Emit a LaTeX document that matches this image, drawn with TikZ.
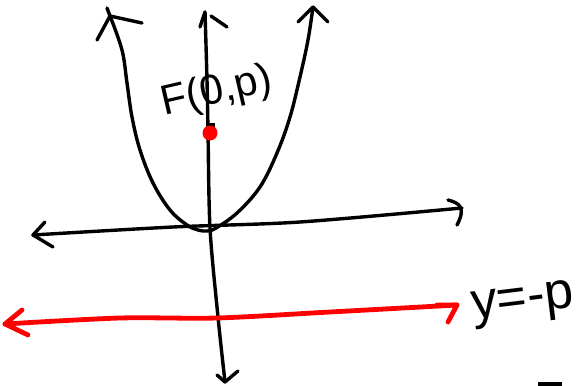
\documentclass[tikz,border=0pt]{standalone}
\usepackage{fontspec}
\setmainfont{Liberation Sans}
\begin{document}
\begin{tikzpicture}[x=0.5pt,y=-0.5pt, line cap=round, line join=round,
  ink/.style={line width=1.7pt, black},
  redink/.style={line width=2.4pt, red},
  lblF/.style={inner sep=0pt, font=\fontsize{21}{24}\selectfont},
  lblD/.style={inner sep=0pt, font=\fontsize{26}{30}\selectfont}]
\useasboundingbox (0,0) rectangle (580,386);
% named end points
\coordinate (yt) at (205,12);
\coordinate (yb) at (225,382);
\coordinate (xl) at (33,235);
\coordinate (xr) at (462,208);
\coordinate (pl) at (110,16);
\coordinate (pr) at (313,7);
\coordinate (dl) at (5,324);
\coordinate (dr) at (457,305);
% y-axis
\draw[ink] plot[smooth] coordinates {(yt) (207,80) (208,130) (210,228) (218,317) (yb)};
\draw[ink] (200,27) -- (yt) ++(6,4) -- (227,27);
\draw[ink] (217,375) -- (yb) -- (238,371);
% x-axis
\draw[ink] plot[smooth] coordinates {(xl) (173,227) (300,222) (xr)};
\draw[ink] (45,222) -- (xl) -- (53,247);
\draw[ink] (448,200) .. controls (460,203) and (466,208) .. (457,225);
% parabola
\draw[ink] plot[smooth, tension=0.6] coordinates {(pl) (122,50) (127,83) (132,117) (140,150) (153,183) (170,210) (187,225) (198,230) (207,231) (216,228) (237,213) (260,187) (277,153) (290,117) (300,77) (308,40) (pr)};
\draw[ink] (97,40) -- (pl) -- (142,23);
\draw[ink] (107,8) -- (pl);
\draw[ink] (298,22) -- (pr) -- (328,22);
% directrix
\draw[redink] plot[smooth] coordinates {(dl) (120,318) (217,318) (330,312) (dr)};
\draw[redink] (22,310) -- (dl) -- (28,335);
\draw[redink] (437,305) -- (dr) -- (448,322);
% focus
\fill[black] (208,123) rectangle (215,130);
\fill[red] (210,133) circle[radius=7.5];
% labels
\node[lblF, rotate=13] (F) at (217,92) {F(0,p)};
\node[lblD, rotate=7] (D) at (523,305) {y=-p};
% cut-off mark at bottom right
\fill[black] (538,382) rectangle (562,390);
\end{tikzpicture}
\end{document}
